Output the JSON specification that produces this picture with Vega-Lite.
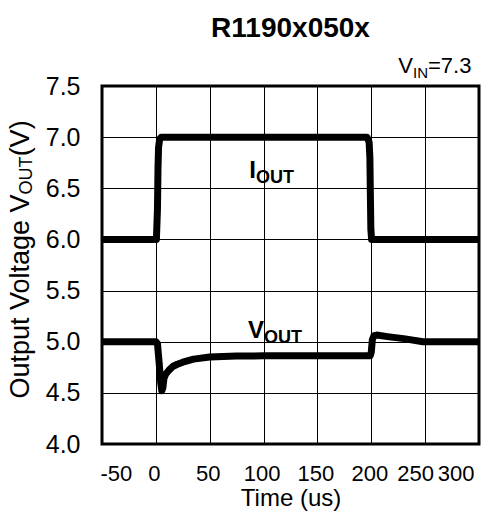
{
  "$schema": "https://vega.github.io/schema/vega-lite/v6.json",
  "width": 377,
  "height": 358,
  "autosize": {"type": "none"},
  "padding": {"left": 102, "top": 86, "right": 19, "bottom": 68},
  "background": "white",
  "config": {
    "font": "Liberation Sans",
    "view": {"stroke": "black", "strokeWidth": 3},
    "axis": {"labelFont": "Liberation Sans", "titleFont": "Liberation Sans", "labelColor": "black", "titleColor": "black", "titleFontWeight": "normal"}
  },
  "title": {"text": "R1190x050x", "fontSize": 28, "fontWeight": "bold", "font": "Liberation Sans", "color": "black", "offset": 12, "anchor": "middle"},
  "datasets": {
    "iout": [
      {"t": -50, "v": 6.0}, {"t": 0.5, "v": 6.0}, {"t": 1.5, "v": 6.3}, {"t": 2, "v": 6.7}, {"t": 2.5, "v": 6.9}, {"t": 3.5, "v": 6.98}, {"t": 5, "v": 7.0},
      {"t": 196, "v": 7.0}, {"t": 198, "v": 6.95}, {"t": 198.7, "v": 6.8}, {"t": 199.2, "v": 6.4}, {"t": 199.6, "v": 6.1}, {"t": 200.3, "v": 6.0}, {"t": 300, "v": 6.0}
    ],
    "vout": [
      {"t": -50, "v": 5.0}, {"t": 0, "v": 5.0}, {"t": 1.5, "v": 4.98}, {"t": 3, "v": 4.8}, {"t": 4.5, "v": 4.6}, {"t": 5.5, "v": 4.52}, {"t": 6.5, "v": 4.55},
      {"t": 7.5, "v": 4.64}, {"t": 9, "v": 4.68}, {"t": 12, "v": 4.72}, {"t": 16, "v": 4.76}, {"t": 20, "v": 4.78}, {"t": 25, "v": 4.8}, {"t": 35, "v": 4.83},
      {"t": 50, "v": 4.85}, {"t": 75, "v": 4.86}, {"t": 100, "v": 4.862}, {"t": 150, "v": 4.862}, {"t": 199, "v": 4.862}, {"t": 200, "v": 4.9},
      {"t": 201, "v": 5.02}, {"t": 202.5, "v": 5.06}, {"t": 205, "v": 5.065}, {"t": 215, "v": 5.05}, {"t": 230, "v": 5.03}, {"t": 248, "v": 5.0}, {"t": 300, "v": 5.0}
    ],
    "main": [
      {"t": 93, "v": 6.6, "txt": "I"},
      {"t": 100.4, "v": 5.04, "txt": "V"}
    ],
    "subs": [
      {"t": 93, "v": 6.6, "txt": "OUT"},
      {"t": 100.4, "v": 5.04, "txt": "OUT"}
    ]
  },
  "layer": [
    {
      "data": {"name": "iout"},
      "mark": {"type": "line", "color": "black", "strokeWidth": 7, "strokeJoin": "round", "strokeCap": "butt"},
      "encoding": {
        "x": {"field": "t", "type": "quantitative", "scale": {"domain": [-50, 300], "nice": false, "zero": false},
          "axis": {"values": [-50, 0, 50, 100, 150, 200, 250, 300], "labelExpr": "'' + datum.value", "labelOverlap": false,
            "labelOffset": {"expr": "datum.value == 250 ? -10 : datum.value == 300 ? -5 : -2"},
            "grid": true, "gridColor": "black", "gridOpacity": 1, "gridWidth": 1, "domain": false, "ticks": false, "labelFontSize": 22, "labelPadding": 19, "title": "Time (us)", "titleFontSize": 24, "titlePadding": 2}},
        "y": {"field": "v", "type": "quantitative", "scale": {"domain": [4, 7.5], "nice": false, "zero": false},
          "axis": {"values": [4, 4.5, 5, 5.5, 6, 6.5, 7, 7.5], "format": ".1f", "labelOverlap": false, "grid": true, "gridColor": "black", "gridOpacity": 1, "gridWidth": 1, "domain": false, "ticks": false, "labelFontSize": 25, "labelPadding": 22, "title": null}}
      }
    },
    {
      "data": {"name": "vout"},
      "mark": {"type": "line", "color": "black", "strokeWidth": 7, "strokeJoin": "round", "strokeCap": "butt"},
      "encoding": {"x": {"field": "t", "type": "quantitative"}, "y": {"field": "v", "type": "quantitative"}}
    },
    {
      "data": {"name": "main"},
      "mark": {"type": "text", "fontSize": 24, "fontWeight": "bold", "align": "right", "baseline": "alphabetic", "color": "black"},
      "encoding": {"x": {"field": "t", "type": "quantitative"}, "y": {"field": "v", "type": "quantitative"}, "text": {"field": "txt"}}
    },
    {
      "data": {"name": "subs"},
      "mark": {"type": "text", "fontSize": 18, "fontWeight": "bold", "align": "left", "baseline": "alphabetic", "dy": 5, "color": "black"},
      "encoding": {"x": {"field": "t", "type": "quantitative"}, "y": {"field": "v", "type": "quantitative"}, "text": {"field": "txt"}}
    },
    {
      "data": {"values": [{"t": 238.7, "v": 7.63, "txt": "V"}]},
      "mark": {"type": "text", "fontSize": 22, "align": "right", "baseline": "alphabetic", "color": "black"},
      "encoding": {"x": {"field": "t", "type": "quantitative"}, "y": {"field": "v", "type": "quantitative"}, "text": {"field": "txt"}}
    },
    {
      "data": {"values": [{"t": 238.7, "v": 7.63, "txt": "IN"}]},
      "mark": {"type": "text", "fontSize": 15, "align": "left", "baseline": "alphabetic", "dy": 5, "color": "black"},
      "encoding": {"x": {"field": "t", "type": "quantitative"}, "y": {"field": "v", "type": "quantitative"}, "text": {"field": "txt"}}
    },
    {
      "data": {"values": [{"t": 252.6, "v": 7.63, "txt": "=7.3"}]},
      "mark": {"type": "text", "fontSize": 22, "align": "left", "baseline": "alphabetic", "color": "black"},
      "encoding": {"x": {"field": "t", "type": "quantitative"}, "y": {"field": "v", "type": "quantitative"}, "text": {"field": "txt"}}
    },
    {
      "data": {"values": [{"t": -125, "v": 6.44, "txt": "Output Voltage V"}]},
      "mark": {"type": "text", "fontSize": 27, "angle": 270, "align": "right", "baseline": "middle", "color": "black"},
      "encoding": {"x": {"field": "t", "type": "quantitative"}, "y": {"field": "v", "type": "quantitative"}, "text": {"field": "txt"}}
    },
    {
      "data": {"values": [{"t": -120, "v": 6.44, "txt": "OUT"}]},
      "mark": {"type": "text", "fontSize": 18, "angle": 270, "align": "left", "baseline": "middle", "color": "black"},
      "encoding": {"x": {"field": "t", "type": "quantitative"}, "y": {"field": "v", "type": "quantitative"}, "text": {"field": "txt"}}
    },
    {
      "data": {"values": [{"t": -125, "v": 6.812, "txt": "(V)"}]},
      "mark": {"type": "text", "fontSize": 27, "angle": 270, "align": "left", "baseline": "middle", "color": "black"},
      "encoding": {"x": {"field": "t", "type": "quantitative"}, "y": {"field": "v", "type": "quantitative"}, "text": {"field": "txt"}}
    }
  ]
}
